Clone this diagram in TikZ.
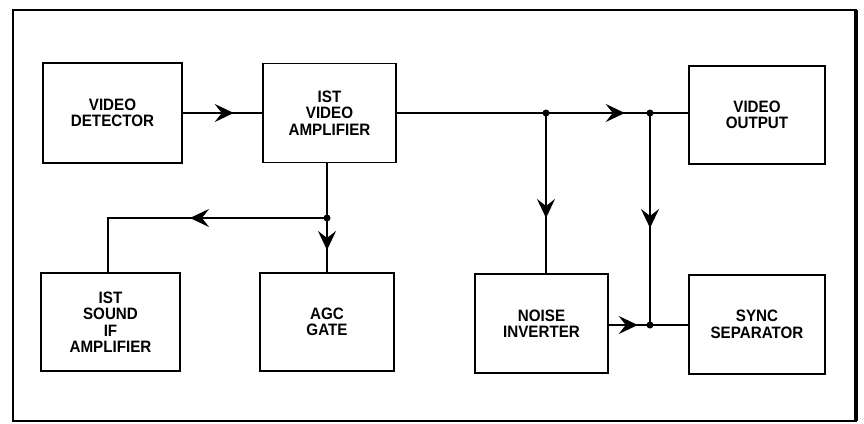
\documentclass[tikz,border=0pt]{standalone}
\usepackage{fontspec}
\setmainfont[FakeStretch=0.92]{Liberation Sans}
\usetikzlibrary{arrows.meta,decorations.markings}
\begin{document}
\begin{tikzpicture}[x=1pt,y=-1pt,
  blk/.style={draw, line width=1.5pt, inner sep=0pt, align=center,
    font=\fontsize{16.5}{16.5}\selectfont\bfseries},
  conn/.style={line width=2.1pt},
  jdot/.style={circle, fill, inner sep=0pt, minimum size=7pt},
  arrowat/.style={postaction={decorate}, decoration={markings,
    mark=at position #1 with {\arrow{Stealth[length=19pt,width=18pt,inset=7pt]}}}}]
\useasboundingbox (0,0) rectangle (864,423);
\draw[line width=1.5pt] (13,10) rectangle (856,421);
\draw[line width=3.4pt] (856,10) -- (856,421);

\node[blk, minimum width=139pt, minimum height=100pt] (VD) at (112.5,113) {VIDEO\\DETECTOR};
\node[blk, minimum width=133pt, minimum height=99pt] (VA) at (329.5,113) {IST\\VIDEO\\AMPLIFIER};
\node[blk, minimum width=136pt, minimum height=98pt] (VO) at (757,115) {VIDEO\\OUTPUT};
\node[blk, minimum width=139pt, minimum height=98pt] (SIF) at (110.5,322) {IST\\SOUND\\IF\\AMPLIFIER};
\node[blk, minimum width=134pt, minimum height=98pt] (AGC) at (327,322) {AGC\\GATE};
\node[blk, minimum width=133pt, minimum height=99pt] (NI) at (541.5,323.5) {NOISE\\INVERTER};
\node[blk, minimum width=136pt, minimum height=99pt] (SS) at (757,324.5) {SYNC\\SEPARATOR};

\coordinate (j1) at (546,113);
\coordinate (j2) at (650,113);
\coordinate (j3) at (327,218);
\coordinate (j4) at (650,325);
\coordinate (c1) at (108,218);

\draw[conn, arrowat=51pt] (VD.east) -- (VA.west);
\draw[conn, arrowat=228pt] (VA.east) -- (j1) -- (j2) -- (VO.west |- j2);
\draw[conn] (VA.south -| j3) -- (j3);
\draw[conn, arrowat=32pt] (j3) -- (AGC.north);
\draw[conn, arrowat=137pt] (j3) -- (c1) -- (SIF.north -| c1);
\draw[conn, arrowat=105pt] (j1) -- (NI.north -| j1);
\draw[conn, arrowat=115pt] (j2) -- (j4);
\draw[conn, arrowat=29pt] (NI.east |- j4) -- (j4) -- (SS.west |- j4);

\node[jdot] (d1) at (j1) {};
\node[jdot] (d2) at (j2) {};
\node[jdot] (d3) at (j3) {};
\node[jdot] (d4) at (j4) {};
\end{tikzpicture}
\end{document}
